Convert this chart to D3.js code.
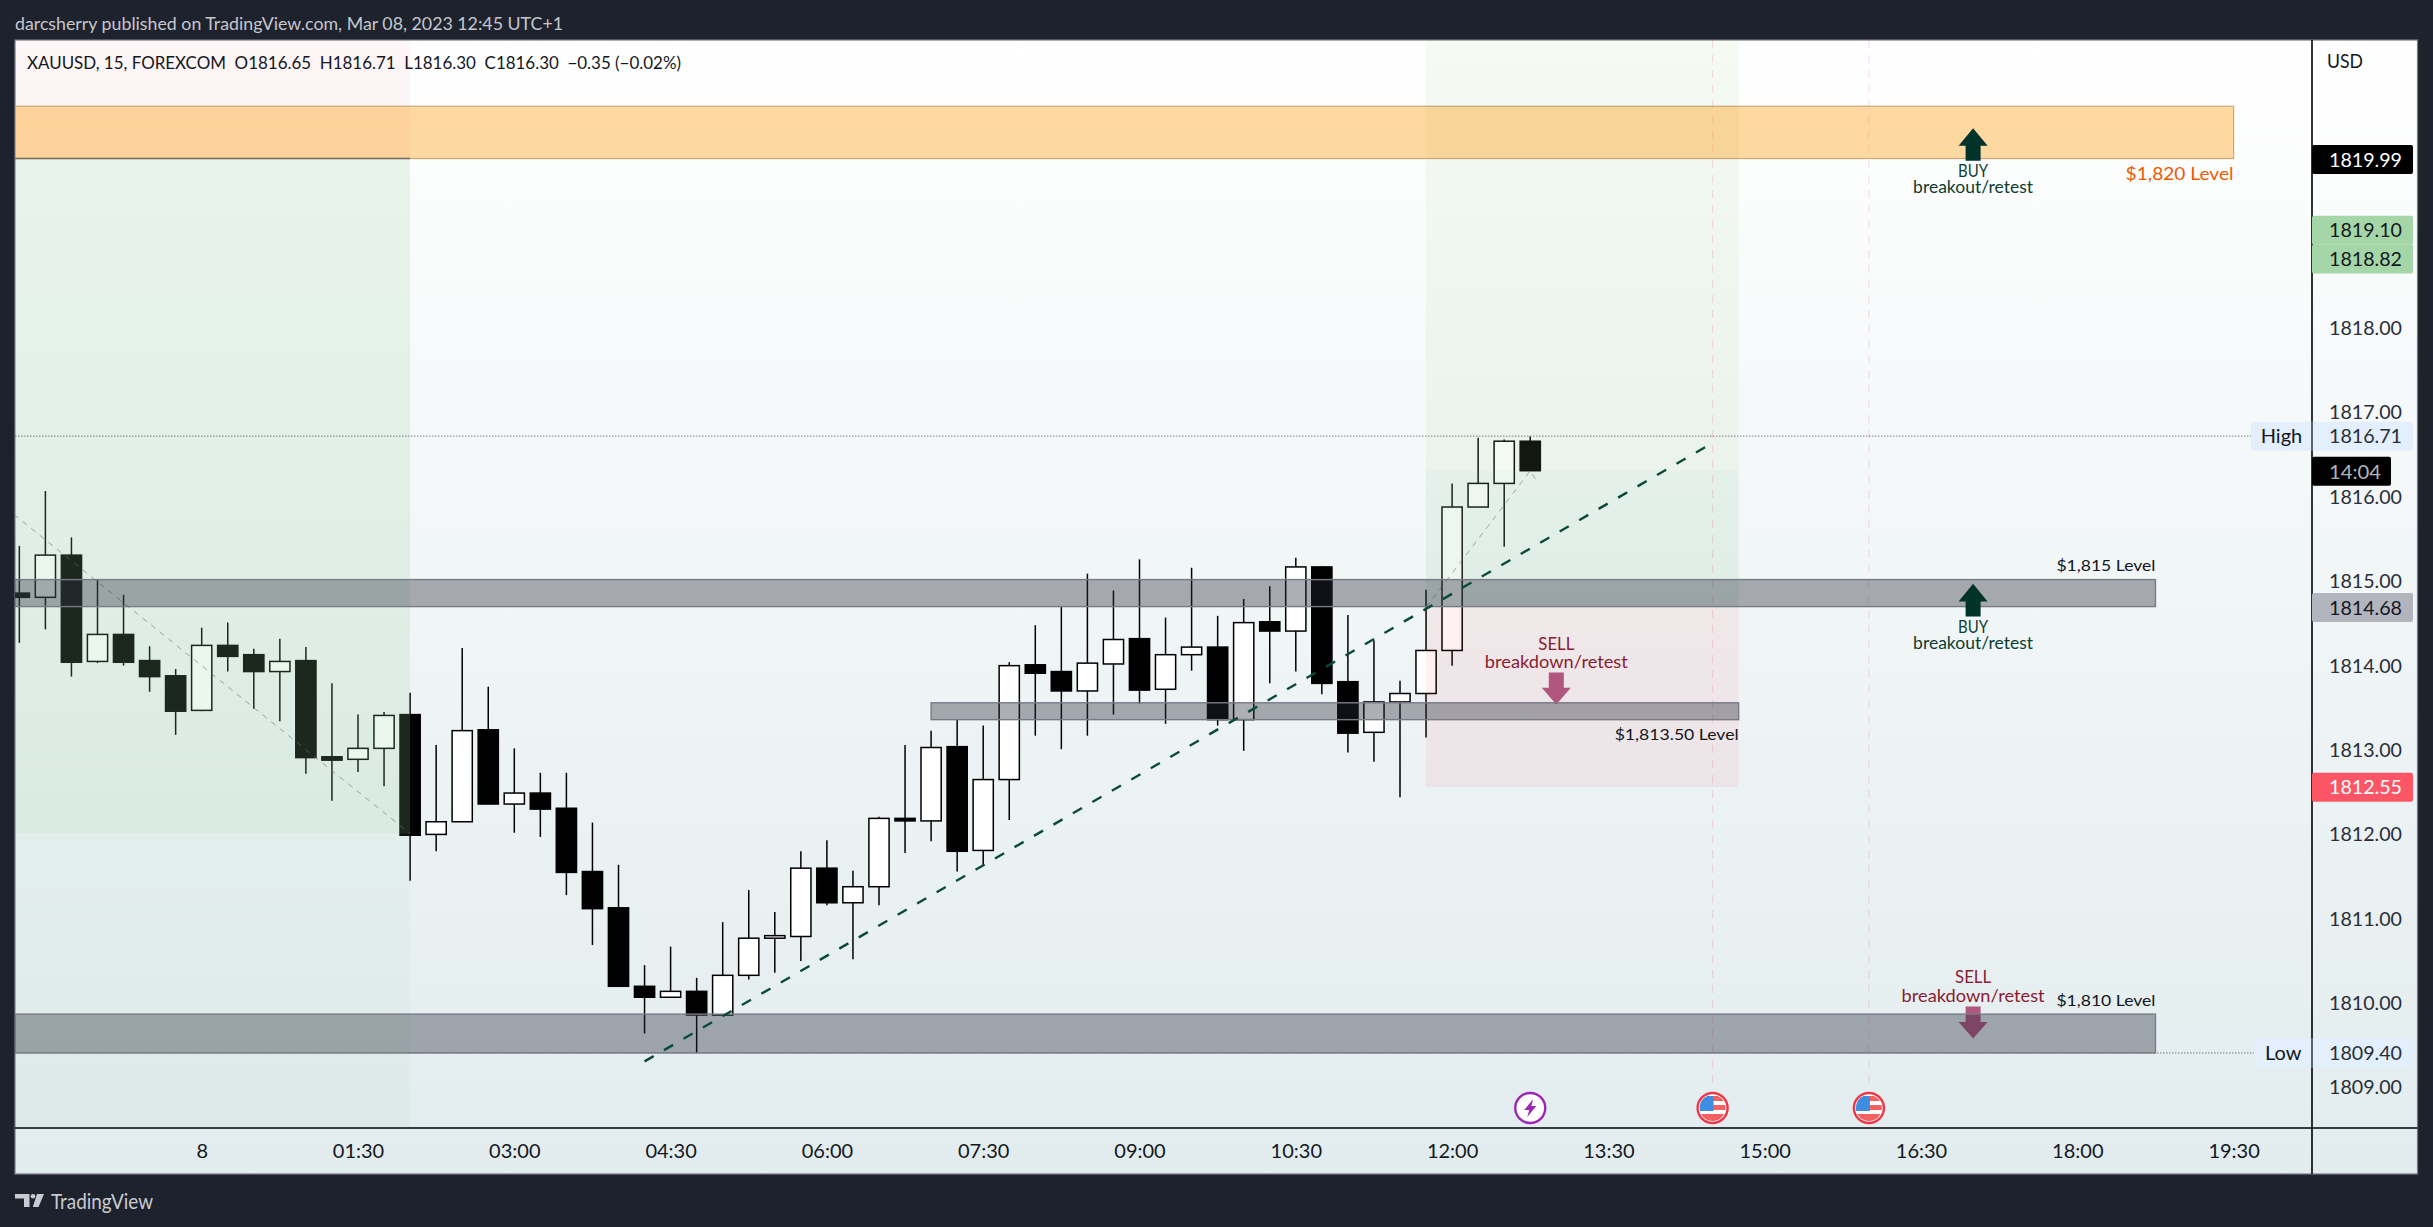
<!DOCTYPE html>
<html><head><meta charset="utf-8">
<script src="https://cdn.jsdelivr.net/npm/d3@7/dist/d3.min.js"></script>
<style>html,body{margin:0;padding:0;background:#1e222d;overflow:hidden}svg{display:block}text{font-family:Lato,"Open Sans",sans-serif}</style>
</head><body>
<script>
// ---- data (15 minute bars; barIndex counts bars from 00:00 on the 8th) ----
const firstBar=-7;
const opens =[1814.85,1814.80,1815.30,1814.04,1814.36,1814.05,1813.87,1813.46,1814.23,1814.12,1813.92,1814.05,1812.91,1812.88,1813.01,1813.41,1811.99,1812.14,1813.23,1812.35,1812.48,1812.30,1811.55,1811.12,1810.19,1810.06,1810.13,1809.85,1810.32,1810.76,1810.78,1811.59,1811.18,1811.37,1812.18,1812.15,1813.03,1811.80,1812.64,1814.00,1813.92,1813.69,1814.01,1814.31,1813.71,1814.12,1814.21,1813.35,1814.51,1814.40,1815.16,1813.80,1813.20,1813.56,1813.66,1814.17,1815.87,1816.15,1816.65];
const highs =[1815.41,1816.06,1815.51,1815.01,1814.83,1814.22,1813.95,1814.44,1814.50,1814.19,1814.31,1814.21,1813.78,1813.41,1813.44,1813.67,1813.05,1814.20,1813.74,1813.01,1812.72,1812.72,1812.13,1811.63,1810.44,1810.66,1810.29,1810.95,1811.33,1811.07,1811.79,1811.92,1811.56,1812.20,1813.05,1813.22,1813.35,1813.28,1814.03,1814.47,1814.69,1815.08,1814.88,1815.25,1814.56,1815.15,1814.58,1814.78,1814.93,1815.27,1815.17,1814.59,1814.29,1813.81,1814.89,1816.15,1816.69,1816.67,1816.71];
const lows  =[1814.26,1814.42,1813.86,1814.02,1813.99,1813.68,1813.17,1813.45,1813.92,1813.48,1813.33,1812.71,1812.39,1812.73,1812.56,1811.44,1811.79,1812.14,1812.35,1812.01,1811.96,1811.27,1810.68,1810.19,1809.63,1810.06,1809.40,1809.85,1810.27,1810.35,1810.49,1811.15,1810.51,1811.15,1811.77,1811.91,1811.55,1811.62,1812.16,1813.16,1813.00,1813.16,1813.41,1813.54,1813.30,1813.93,1813.28,1812.98,1813.78,1813.92,1813.65,1812.96,1812.85,1812.43,1813.14,1813.99,1815.87,1815.40,1816.30];
const closes=[1814.80,1815.30,1814.03,1814.36,1814.03,1813.86,1813.45,1814.23,1814.10,1813.92,1814.04,1812.90,1812.87,1813.01,1813.40,1811.98,1812.14,1813.22,1812.35,1812.48,1812.29,1811.54,1811.11,1810.19,1810.06,1810.13,1809.85,1810.32,1810.76,1810.79,1811.59,1811.18,1811.37,1812.18,1812.15,1813.02,1811.79,1812.64,1813.99,1813.90,1813.69,1814.02,1814.30,1813.70,1814.12,1814.21,1813.35,1814.50,1814.40,1815.16,1813.78,1813.19,1813.56,1813.66,1814.17,1815.87,1816.15,1816.65,1816.30];
const priceTicks=[1818,1817,1816,1815,1814,1813,1812,1811,1810,1809];
const timeTickBars=[0,6,12,18,24,30,36,42,48,54,60,66,72,78];
const timeTickLabels=["8","01:30","03:00","04:30","06:00","07:30","09:00","10:30","12:00","13:30","15:00","16:30","18:00","19:30"];
const grayBands=[[-8,75,1815.01,1814.69],[28,59,1813.55,1813.35],[-8,75,1809.86,1809.40]];
const orangeBand=[-8,78,1820.62,1820.00];
const levelLabels=[["$1,820 Level",78,1819.82,"#ef5a00",108],["$1,815 Level",75,1815.175,"#131722",99],["$1,813.50 Level",59,1813.18,"#131722",124],["$1,810 Level",75,1810.02,"#131722",99]];
const upArrows=[[68,1820.36],[68,1814.96]];
const downArrows=[[52,1813.53],[68,1809.57]];
const buyNotes=[[68,1819.85],[68,1814.45]];
const sellNotes=[[52,1814.255],[68,1810.30]];
const trendLine=[[17,1809.30],[58,1816.63]];
const fadedLines=[[[-7.2,1815.78],[8,1812.0]],[[47,1814.68],[51,1816.3],[51.2,1816.2]]];
const eventBars=[58,64];
const lightningBar=51;
const highPrice=1816.71, lowPrice=1809.40;
const priceBadges=[
 ["1819.99",1819.99,"#000000","#ffffff"],
 ["1819.10",1819.15,"#a5d6a7","#131722"],
 ["1818.82",1818.81,"#a5d6a7","#131722"],
 ["1814.68",1814.68,"#b2b5be","#131722"],
 ["1812.55",1812.55,"#fc5565","#ffffff"]];

// ---- scales ----
const W=2433,H=1227;
const paneL=15,paneT=40,paneR=2312,paneB=1128,frameR=2417.5,frameB=1174;
const x=d3.scaleLinear().domain([0,78]).range([201.7,201.7+26.05*78]);
const y=d3.scaleLinear().domain([1818,1809]).range([327.3,1086.7]);
const svg=d3.select("body").append("svg").attr("width",W).attr("height",H).attr("viewBox",`0 0 ${W} ${H}`);
const defs=svg.append("defs");
const grad=defs.append("linearGradient").attr("id","bg").attr("x1",0).attr("x2",0).attr("y1",0).attr("y2",1);
grad.append("stop").attr("offset",0).attr("stop-color","#ffffff");
grad.append("stop").attr("offset",1).attr("stop-color","#e2ecee");
defs.append("clipPath").attr("id","pane").append("rect").attr("x",paneL).attr("y",paneT).attr("width",paneR-paneL).attr("height",paneB-paneT);
defs.append("clipPath").attr("id","flagclip").append("circle").attr("r",13);

svg.append("rect").attr("width",W).attr("height",H).attr("fill","#1e222d");
svg.append("rect").attr("x",paneL).attr("y",paneT).attr("width",frameR-paneL).attr("height",frameB-paneT).attr("fill","url(#bg)").attr("stroke","#787b86").attr("stroke-width",1.2);

function label(g,px,py,txt,size,color,anchor,len,weight){
  const t=g.append("text").attr("x",px).attr("y",py).attr("dy","0.36em").attr("font-size",size).attr("fill",color).attr("text-anchor",anchor||"start").text(txt);
  if(len) t.attr("textLength",len).attr("lengthAdjust","spacingAndGlyphs");
  if(weight) t.attr("font-weight",weight);
  return t;
}

const pane=svg.append("g").attr("clip-path","url(#pane)");

// candles
const bars=opens.map((o,i)=>({k:firstBar+i,o,h:highs[i],l:lows[i],c:closes[i]}));
const bw=20.2;
const cg=pane.append("g");
cg.selectAll("line").data(bars).join("line")
  .attr("x1",d=>x(d.k)).attr("x2",d=>x(d.k)).attr("y1",d=>y(d.h)).attr("y2",d=>y(d.l))
  .attr("stroke","#000").attr("stroke-width",1.5);
cg.selectAll("rect").data(bars).join("rect")
  .attr("x",d=>x(d.k)-bw/2).attr("width",bw)
  .attr("y",d=>y(Math.max(d.o,d.c))).attr("height",d=>Math.max(2,Math.abs(y(d.o)-y(d.c))))
  .attr("fill",d=>d.c>=d.o?"#fff":"#000").attr("stroke","#000").attr("stroke-width",1.5);

// session and position overlays (in front of the candles, they tint them)
function shade(k0,k1,p0,p1,fill){
  pane.append("rect").attr("x",x(k0)).attr("width",x(k1)-x(k0)).attr("y",y(p0)).attr("height",y(p1)-y(p0)).attr("fill",fill);
}
shade(-8,8,1823,1819.99,"rgba(242,54,69,0.05)");
shade(-8,8,1819.99,1812.0,"rgba(150,205,160,0.19)");
shade(-8,8,1812.0,1807,"rgba(150,215,170,0.09)");
shade(47,59,1823,1816.3,"rgba(160,210,150,0.11)");
shade(47,59,1816.3,1814.68,"rgba(150,200,160,0.17)");
shade(47,59,1814.68,1812.55,"rgba(242,54,69,0.07)");

// event verticals
pane.selectAll(".ev").data(eventBars).join("line").attr("class","ev")
  .attr("x1",d=>x(d)).attr("x2",d=>x(d)).attr("y1",paneT).attr("y2",1090)
  .attr("stroke","rgba(242,54,100,0.16)").attr("stroke-width",1.2).attr("stroke-dasharray","8 7");

// faded drawings
const ln=d3.line().x(d=>x(d[0])).y(d=>y(d[1]));
pane.selectAll(".fd").data(fadedLines).join("path").attr("class","fd").attr("d",ln).attr("fill","none")
  .attr("stroke","rgba(105,115,110,0.6)").attr("stroke-width",1).attr("stroke-dasharray","5.5 5.5");

// dotted high / low
[highPrice,lowPrice].forEach((p,i)=>{
  pane.append("line").attr("x1",paneL).attr("x2",i?2254:2251).attr("y1",y(p)).attr("y2",y(p))
    .attr("stroke","#787b86").attr("stroke-width",1).attr("stroke-dasharray","1.5 1.5");
});

// arrows
function upArrow(k,p,c){
  const cx=x(k),t=y(p);
  pane.append("path").attr("fill",c).attr("d",`M${cx},${t}L${cx+14.5},${t+17.7}L${cx+7.5},${t+17.7}L${cx+7.5},${t+32.7}L${cx-7.5},${t+32.7}L${cx-7.5},${t+17.7}L${cx-14.5},${t+17.7}Z`);
}
function downArrow(k,p,c){
  const cx=x(k),t=y(p);
  pane.append("path").attr("fill",c).attr("d",`M${cx},${t}L${cx+14.5},${t-16.6}L${cx+7.5},${t-16.6}L${cx+7.5},${t-32}L${cx-7.5},${t-32}L${cx-7.5},${t-16.6}L${cx-14.5},${t-16.6}Z`);
}
downArrows.forEach(a=>downArrow(a[0],a[1],"#b0567f"));

// bands
grayBands.forEach(b=>{
  pane.append("rect").attr("x",x(b[0])).attr("width",x(b[1])-x(b[0])).attr("y",y(b[2])).attr("height",y(b[3])-y(b[2]))
    .attr("fill","rgba(42,46,57,0.38)").attr("stroke","#787b86").attr("stroke-width",1.4);
});
pane.append("rect").attr("x",x(orangeBand[0])).attr("width",x(orangeBand[1])-x(orangeBand[0])).attr("y",y(orangeBand[2])).attr("height",y(orangeBand[3])-y(orangeBand[2]))
  .attr("fill","rgba(255,152,0,0.37)").attr("stroke","#c9a877").attr("stroke-width",1.2);
pane.append("line").attr("x1",paneL).attr("x2",x(8)).attr("y1",y(orangeBand[3])).attr("y2",y(orangeBand[3])).attr("stroke","#6f6f60").attr("stroke-width",1.5);

upArrows.forEach(a=>upArrow(a[0],a[1],"#00332a"));

// trend line
pane.append("path").datum(trendLine).attr("d",ln).attr("fill","none").attr("stroke","#0b4a3a").attr("stroke-width",2.4).attr("stroke-dasharray","10.5 12");

// annotations
buyNotes.forEach(n=>{
  label(svg,x(n[0]),y(n[1]),"BUY",16.5,"#0b3d30","middle",30);
  label(svg,x(n[0]),y(n[1])+16,"breakout/retest",16.5,"#0b3d30","middle",120);
});
sellNotes.forEach(n=>{
  label(svg,x(n[0]),y(n[1]),"SELL",18,"#8a1c32","middle",36);
  label(svg,x(n[0]),y(n[1])+18.5,"breakdown/retest",18,"#8a1c32","middle",143);
});
levelLabels.forEach(l=>label(svg,x(l[1]),y(l[2]),l[0],l[0].includes("820")?18:16,l[3],"end",l[4]));

// events
eventBars.forEach(k=>{
  const g=pane.append("g").attr("transform",`translate(${x(k)},1108)`);
  g.append("circle").attr("r",15).attr("fill","#fff").attr("stroke","#f23645").attr("stroke-width",2.4);
  const f=g.append("g").attr("clip-path","url(#flagclip)");
  f.append("rect").attr("x",-13).attr("y",-12).attr("width",26).attr("height",5).attr("fill","#f56060");
  f.append("rect").attr("x",0).attr("y",-3).attr("width",13).attr("height",5).attr("fill","#f56060");
  f.append("rect").attr("x",-13).attr("y",6).attr("width",26).attr("height",8).attr("fill","#f56060");
  f.append("rect").attr("x",-13).attr("y",-12).attr("width",14).attr("height",15).attr("fill","#3d8de0");
});
{
  const g=pane.append("g").attr("transform",`translate(${x(lightningBar)},1108)`);
  g.append("circle").attr("r",15).attr("fill","#fff").attr("stroke","#9c27b0").attr("stroke-width",2.4);
  g.append("path").attr("fill","#9c27b0").attr("d","M3,-9L-6,2L-1,2L-3,9L6,-2L1,-2Z");
}

// y axis
const yAxis=d3.axisRight(y).tickValues(priceTicks).tickFormat(d3.format(".2f")).tickSize(0).tickPadding(0);
const yg=svg.append("g").attr("transform",`translate(2402,0)`).call(yAxis);
yg.select(".domain").remove();
yg.selectAll("text").attr("text-anchor","end").attr("x",0).attr("dy","0.36em").attr("font-size",20).attr("fill","#2a2e39").attr("textLength",73).attr("lengthAdjust","spacingAndGlyphs").style("font-family","Lato");
label(svg,2327,60.7,"USD",20,"#131722","start",36);

// x axis
const xAxis=d3.axisBottom(x).tickValues(timeTickBars).tickFormat((d,i)=>timeTickLabels[i]).tickSize(0).tickPadding(0);
const xg=svg.append("g").attr("transform","translate(0,1150.7)").call(xAxis);
xg.select(".domain").remove();
xg.selectAll("text").attr("y",0).attr("dy","0.36em").attr("font-size",20).attr("fill","#131722").style("font-family","Lato");

// axis frame lines
svg.append("line").attr("x1",paneR).attr("x2",paneR).attr("y1",paneT).attr("y2",frameB).attr("stroke","#000").attr("stroke-width",1.6);
svg.append("line").attr("x1",paneL).attr("x2",frameR).attr("y1",paneB).attr("y2",paneB).attr("stroke","#000").attr("stroke-width",1.6);

// price badges
function badge(x0,x1,cy,fill){
  svg.append("rect").attr("x",x0).attr("width",x1-x0).attr("y",cy-14.5).attr("height",29).attr("rx",2).attr("fill",fill);
}
priceBadges.forEach(b=>{
  badge(paneR,2413,y(b[1]),b[2]);
  label(svg,2402,y(b[1]),b[0],20,b[3],"end",73);
});
badge(paneR,2391,471.3,"#000");
label(svg,2329,471.3,"14:04",20,"#b2b5be","start",52);
[["High",highPrice,2251],["Low",lowPrice,2254.4]].forEach(r=>{
  badge(r[2],2413,y(r[1]),"#e3effd");
  svg.append("line").attr("x1",paneR).attr("x2",paneR).attr("y1",y(r[1])-14.5).attr("y2",y(r[1])+14.5).attr("stroke","#000").attr("stroke-width",1.2);
  label(svg,2402,y(r[1]),r[1].toFixed(2),20,"#2a2e39","end",73);
  label(svg,(r[2]+paneR)/2,y(r[1]),r[0],20,"#131722","middle");
});

// header, legend, footer
label(svg,15,23.5,"darcsherry published on TradingView.com, Mar 08, 2023 12:45 UTC+1",18,"#c5c7ce","start",548);
label(svg,27,62.7,"XAUUSD, 15, FOREXCOM  O1816.65  H1816.71  L1816.30  C1816.30  \u22120.35 (\u22120.02%)",17.5,"#131722","start",654).attr("xml:space","preserve").style("white-space","pre");
label(svg,51,1201.7,"TradingView",21,"#c9cbd4","start",102);
svg.append("path").attr("fill","#c9cbd4").attr("d","M15,1194H29.5V1207H24V1198.5H15ZM37,1194H44L38.5,1207H32.8Z");
svg.append("circle").attr("cx",33).attr("cy",1196.2).attr("r",2.3).attr("fill","#c9cbd4");
</script>
</body></html>
